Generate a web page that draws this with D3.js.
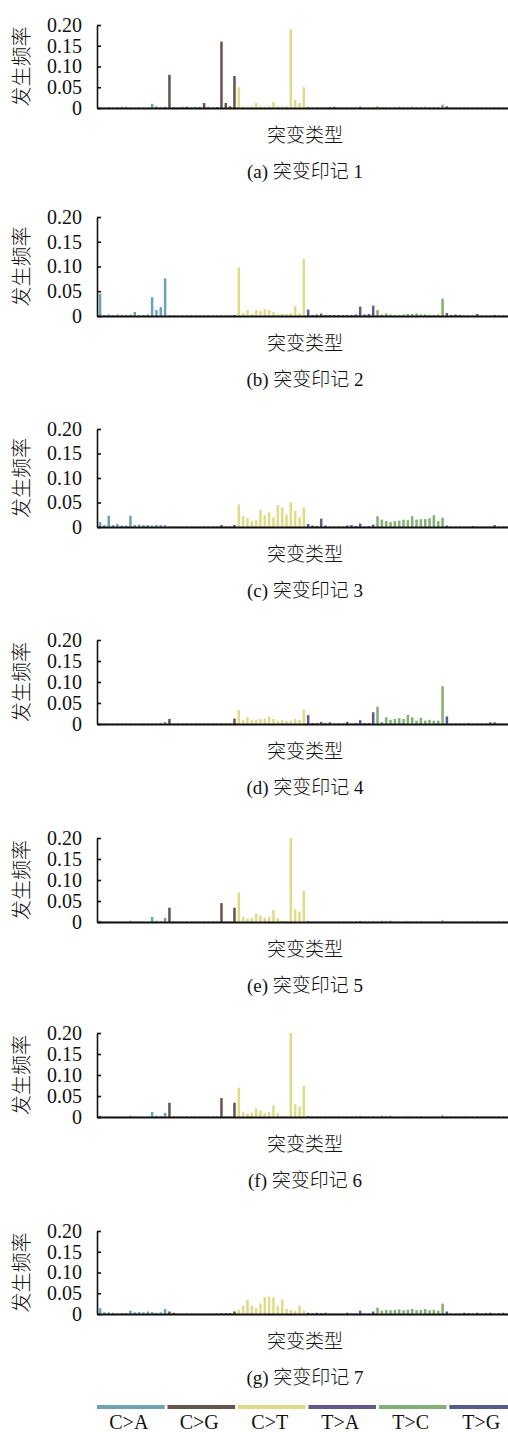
<!DOCTYPE html>
<html>
<head>
<meta charset="utf-8">
<script src="https://cdn.jsdelivr.net/npm/d3@7"></script>
<style>
  body { margin: 0; background: #fff; }
  text { font-family: "Liberation Serif", "Times New Roman", "Noto Sans CJK SC", serif; fill: #111; }
  .cjk { font-weight: 300; }
</style>
</head>
<body>
<div id="chart"></div>
<script>
/*
Seven mutation signatures, 96 trinucleotide contexts each,
grouped by the six substitution classes (16 bars per class)
*/

var classes = ["C>A", "C>G", "C>T", "T>A", "T>C", "T>G"];
var classColours = ["#6fa3b3", "#66554d", "#dedb8a", "#66588a", "#82b075", "#565d8c"];

var yTicks = [0, 0.05, 0.10, 0.15, 0.20];
var captions = ["(a) 突变印记 1", "(b) 突变印记 2", "(c) 突变印记 3", "(d) 突变印记 4",
                "(e) 突变印记 5", "(f) 突变印记 6", "(g) 突变印记 7"];

// one line per substitution class: C>A, C>G, C>T, T>A, T>C, T>G
var sig1 = [
  0.001,0.001,0.002,0.001,0.002,0.003,0.003,0.001,0.001,0.002,0.001,0.001,0.010,0.004,0.002,0.003,
  0.080,0.002,0.001,0.002,0.003,0.001,0.002,0.002,0.012,0.002,0.001,0.002,0.160,0.012,0.004,0.077,
  0.050,0.004,0.003,0.004,0.012,0.004,0.003,0.004,0.014,0.004,0.003,0.004,0.190,0.020,0.012,0.050,
  0.002,0.001,0.001,0.001,0.001,0.002,0.003,0.001,0.001,0.001,0.001,0.001,0.003,0.001,0.001,0.001,
  0.004,0.002,0.002,0.001,0.002,0.003,0.002,0.002,0.003,0.002,0.002,0.003,0.002,0.002,0.002,0.008,
  0.004,0.001,0.001,0.001,0.001,0.001,0.001,0.001,0.001,0.001,0.001,0.001,0.001,0.001,0.001,0.001
];
var sig2 = [
  0.045,0.002,0.003,0.002,0.003,0.002,0.002,0.003,0.008,0.002,0.002,0.003,0.038,0.012,0.018,0.076,
  0.001,0.001,0.001,0.001,0.001,0.001,0.001,0.001,0.001,0.001,0.001,0.001,0.001,0.001,0.001,0.002,
  0.098,0.006,0.012,0.004,0.012,0.010,0.014,0.012,0.008,0.004,0.005,0.004,0.006,0.020,0.006,0.115,
  0.013,0.002,0.003,0.005,0.002,0.002,0.002,0.002,0.002,0.002,0.002,0.003,0.019,0.003,0.004,0.021,
  0.012,0.003,0.005,0.003,0.002,0.002,0.003,0.004,0.004,0.005,0.003,0.003,0.002,0.002,0.003,0.035,
  0.006,0.002,0.003,0.002,0.001,0.001,0.001,0.004,0.001,0.001,0.001,0.002,0.001,0.001,0.001,0.001
];
var sig3 = [
  0.010,0.004,0.023,0.004,0.006,0.003,0.003,0.023,0.004,0.005,0.004,0.004,0.003,0.004,0.004,0.004,
  0.001,0.001,0.001,0.001,0.001,0.001,0.001,0.001,0.001,0.001,0.001,0.001,0.004,0.001,0.001,0.004,
  0.046,0.022,0.018,0.012,0.014,0.035,0.024,0.030,0.020,0.045,0.040,0.025,0.050,0.033,0.020,0.040,
  0.006,0.003,0.002,0.017,0.003,0.001,0.001,0.001,0.001,0.003,0.004,0.002,0.007,0.001,0.002,0.005,
  0.022,0.015,0.012,0.010,0.012,0.013,0.015,0.014,0.022,0.015,0.016,0.016,0.018,0.024,0.012,0.019,
  0.003,0.001,0.001,0.001,0.001,0.001,0.002,0.001,0.001,0.001,0.001,0.004,0.001,0.001,0.001,0.001
];
var sig4 = [
  0.001,0.001,0.001,0.001,0.001,0.001,0.001,0.001,0.001,0.001,0.001,0.001,0.001,0.001,0.002,0.005,
  0.012,0.001,0.001,0.001,0.001,0.001,0.001,0.001,0.001,0.001,0.001,0.001,0.001,0.001,0.001,0.013,
  0.033,0.010,0.016,0.010,0.010,0.012,0.013,0.018,0.012,0.008,0.010,0.007,0.008,0.012,0.010,0.034,
  0.021,0.002,0.002,0.005,0.002,0.004,0.001,0.001,0.001,0.005,0.001,0.002,0.009,0.002,0.002,0.028,
  0.041,0.005,0.016,0.010,0.012,0.014,0.012,0.022,0.016,0.008,0.015,0.008,0.010,0.008,0.008,0.090,
  0.018,0.001,0.001,0.001,0.001,0.002,0.001,0.001,0.001,0.001,0.004,0.004,0.001,0.001,0.001,0.001
];
var sig5 = [
  0.003,0.001,0.001,0.001,0.001,0.001,0.001,0.003,0.001,0.001,0.001,0.001,0.012,0.003,0.002,0.010,
  0.034,0.001,0.001,0.001,0.001,0.001,0.001,0.001,0.001,0.001,0.001,0.001,0.045,0.001,0.001,0.034,
  0.070,0.012,0.008,0.010,0.020,0.015,0.010,0.012,0.028,0.010,0.003,0.002,0.200,0.030,0.025,0.074,
  0.002,0.001,0.001,0.001,0.001,0.001,0.001,0.001,0.001,0.001,0.001,0.001,0.002,0.001,0.001,0.001,
  0.001,0.003,0.002,0.003,0.001,0.001,0.001,0.002,0.001,0.001,0.002,0.001,0.001,0.001,0.001,0.004,
  0.001,0.001,0.001,0.001,0.001,0.001,0.001,0.001,0.001,0.001,0.001,0.001,0.001,0.001,0.001,0.001
];
var sig6 = [
  0.003,0.001,0.001,0.001,0.001,0.001,0.001,0.003,0.001,0.001,0.001,0.001,0.012,0.003,0.002,0.010,
  0.034,0.001,0.001,0.001,0.001,0.001,0.001,0.001,0.001,0.001,0.001,0.001,0.045,0.001,0.001,0.034,
  0.070,0.012,0.008,0.010,0.020,0.015,0.010,0.012,0.028,0.010,0.003,0.002,0.200,0.030,0.025,0.074,
  0.002,0.001,0.001,0.001,0.001,0.001,0.001,0.001,0.001,0.001,0.001,0.001,0.002,0.001,0.001,0.001,
  0.001,0.003,0.002,0.003,0.001,0.001,0.001,0.002,0.001,0.001,0.002,0.001,0.001,0.001,0.001,0.004,
  0.001,0.001,0.001,0.001,0.001,0.001,0.001,0.001,0.001,0.001,0.001,0.001,0.001,0.001,0.001,0.001
];
var sig7 = [
  0.014,0.004,0.004,0.003,0.002,0.002,0.002,0.008,0.004,0.005,0.004,0.006,0.005,0.003,0.004,0.012,
  0.006,0.003,0.001,0.001,0.001,0.001,0.001,0.001,0.001,0.001,0.001,0.001,0.002,0.002,0.002,0.006,
  0.010,0.020,0.034,0.020,0.015,0.025,0.041,0.042,0.040,0.020,0.035,0.012,0.010,0.008,0.020,0.008,
  0.003,0.002,0.003,0.002,0.003,0.001,0.001,0.001,0.001,0.003,0.001,0.001,0.008,0.001,0.001,0.006,
  0.015,0.008,0.010,0.009,0.010,0.011,0.009,0.010,0.012,0.009,0.010,0.012,0.009,0.010,0.008,0.025,
  0.006,0.001,0.001,0.001,0.003,0.002,0.001,0.003,0.001,0.002,0.003,0.001,0.002,0.003,0.001,0.001
];

var signatures = [sig1, sig2, sig3, sig4, sig5, sig6, sig7];

// layout: y of the 0.20 tick and of the x axis for every panel
var panelTop  = [25, 217, 429, 640, 838, 1033, 1231];
var panelBase = [108, 316, 527, 724, 922, 1117, 1314];

var width = 508, height = 1432;
var left = 97, right = 515;   // plot runs a bit past the right edge, like the original

var svg = d3.select("#chart")
            .append("svg")
            .attr("width", width)
            .attr("height", height);

// x scale over the 96 contexts
var xScale = d3.scaleBand()
               .domain(d3.range(96))
               .range([left, right])
               .padding(0.42);

function colourOf(i) { return classColours[Math.floor(i / 16)]; }

signatures.forEach(function(sig, p) {

    var yScale = d3.scaleLinear()
                   .domain([0, 0.2])
                   .range([panelBase[p], panelTop[p]]);

    var g = svg.append("g").attr("class", "panel");

    // bars
    g.selectAll(".bar")
     .data(sig)
     .enter().append("rect")
     .attr("class", "bar")
     .attr("x", function(d, i) { return xScale(i); })
     .attr("width", xScale.bandwidth())
     .attr("y", function(d) { return yScale(d); })
     .attr("height", function(d) { return yScale(0) - yScale(d); })
     .style("fill", function(d, i) { return colourOf(i); });

    // y axis, ticks pointing inwards
    var yAxis = d3.axisLeft(yScale)
                  .tickValues(yTicks)
                  .tickSizeInner(-4)
                  .tickSizeOuter(0)
                  .tickPadding(15)
                  .tickFormat(function(d) { return d === 0 ? "0" : d3.format(".2f")(d); });

    var ya = g.append("g")
              .attr("transform", "translate(" + left + ",0)")
              .call(yAxis);
    ya.selectAll("path, line").attr("stroke", "#111").attr("stroke-width", 1.6);
    ya.selectAll("text").style("font-size", "20px").attr("fill", "#111");

    // x axis: plain line, no ticks
    var xa = g.append("g")
              .attr("transform", "translate(0," + panelBase[p] + ")")
              .call(d3.axisBottom(xScale).tickSize(0).tickValues([]));
    xa.select("path").attr("stroke", "#111").attr("stroke-width", 1.8);

    // y title
    g.append("text")
     .attr("class", "cjk")
     .attr("transform", "translate(22," + ((panelTop[p] + panelBase[p]) / 2) + ") rotate(-90)")
     .attr("text-anchor", "middle")
     .attr("dominant-baseline", "central")
     .style("font-size", "20px")
     .text("发生频率");

    // x title
    g.append("text")
     .attr("class", "cjk")
     .attr("x", 305)
     .attr("y", panelBase[p] + 27)
     .attr("text-anchor", "middle")
     .attr("dominant-baseline", "central")
     .style("font-size", "19px")
     .text("突变类型");

    // caption
    g.append("text")
     .attr("class", "cjk")
     .attr("x", 305)
     .attr("y", panelBase[p] + 63)
     .attr("text-anchor", "middle")
     .attr("dominant-baseline", "central")
     .style("font-size", "19px")
     .text(captions[p]);
});

// legend of the six substitution classes
var legendScale = d3.scaleBand()
                    .domain(classes)
                    .range([left, left + 420])
                    .paddingInner(0.04);

var legend = svg.append("g").attr("class", "legend");

legend.selectAll(".swatch")
      .data(classes)
      .enter().append("rect")
      .attr("class", "swatch")
      .attr("x", function(d) { return legendScale(d); })
      .attr("y", 1405)
      .attr("width", legendScale.bandwidth())
      .attr("height", 4)
      .style("fill", function(d, i) { return classColours[i]; });

legend.selectAll(".label")
      .data(classes)
      .enter().append("text")
      .attr("class", "label")
      .attr("x", function(d) { return legendScale(d) + legendScale.bandwidth() / 2 - 2; })
      .attr("y", 1429)
      .attr("text-anchor", "middle")
      .style("font-size", "20px")
      .text(function(d) { return d; });
</script>
</body>
</html>
